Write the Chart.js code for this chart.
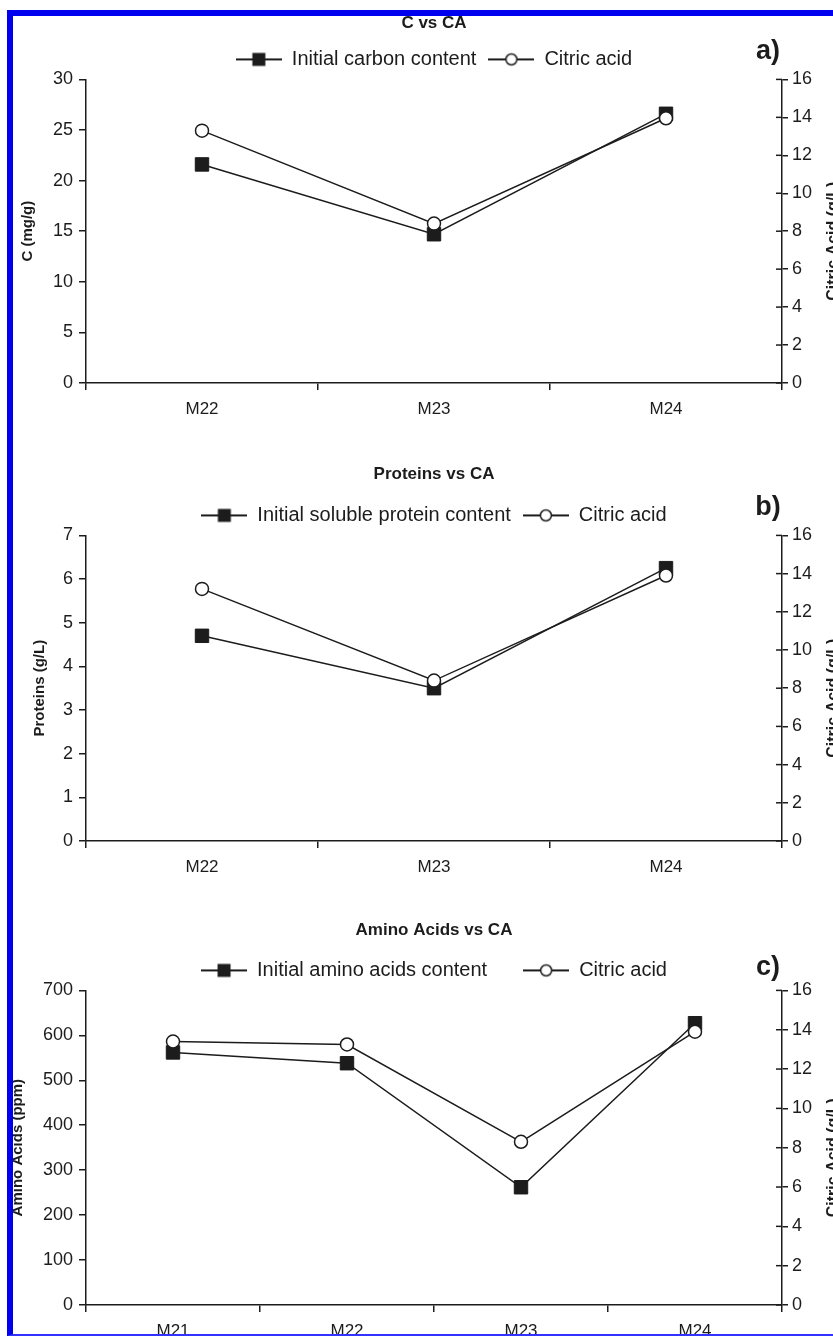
<!DOCTYPE html>
<html>
<head>
<meta charset="utf-8">
<title>C / Proteins / Amino Acids vs CA</title>
<script src="https://cdn.jsdelivr.net/npm/chart.js@4/dist/chart.umd.min.js"></script>
<style>
  html, body { margin: 0; padding: 0; background: #fff; overflow: hidden; width: 833px; height: 1336px; }
  .panel { position: absolute; left: 0; }
  #frame {
    position: absolute; left: 7px; top: 10px; width: 900px; height: 1318px;
    border-left: 6px solid #0000ee; border-top: 6px solid #0000ee; border-bottom: 2px solid #3333ff;
    z-index: 5; pointer-events: none;
  }
</style>
</head>
<body>

<canvas id="chartA" class="panel" width="868" height="432" style="top:0px"></canvas>
<canvas id="chartB" class="panel" width="868" height="450" style="top:440px"></canvas>
<canvas id="chartC" class="panel" width="868" height="441" style="top:895px"></canvas>
<div id="frame"></div>

<script>
// ---- data ----
const catsA = ["M22", "M23", "M24"];
const carbonA = [21.6, 14.7, 26.6];
const citricA = [13.3, 8.4, 13.95];

const catsB = ["M22", "M23", "M24"];
const proteinB = [4.7, 3.5, 6.25];
const citricB = [13.2, 8.4, 13.9];

const catsC = ["M21", "M22", "M23", "M24"];
const aminoC = [562, 538, 262, 627];
const citricC = [13.4, 13.25, 8.3, 13.9];

// axis ranges (max, step)
const leftAxisA = [30, 5];
const leftAxisB = [7, 1];
const leftAxisC = [700, 100];
const citricAxis = [16, 2];

const INK = "#1c1c1c";
const SANS = "'Liberation Sans', Arial, sans-serif";

// legend marker: short line with the point symbol on it
function legendMark(kind) {
  const c = document.createElement("canvas");
  c.width = 46; c.height = 16;
  const g = c.getContext("2d");
  g.strokeStyle = INK; g.lineWidth = 1.8;
  g.beginPath(); g.moveTo(0, 8); g.lineTo(46, 8); g.stroke();
  if (kind === "square") {
    g.fillStyle = INK; g.fillRect(16.5, 1.5, 13, 13);
  } else {
    g.fillStyle = "#fff"; g.lineWidth = 1.5;
    g.beginPath(); g.arc(23, 8, 5.5, 0, Math.PI * 2); g.fill(); g.stroke();
  }
  return c;
}

// right-axis inner ticks, panel letter, clipped right axis title
const panelExtras = {
  id: "panelExtras",
  afterDraw(chart, args, o) {
    const g = chart.ctx;
    const y2 = chart.scales.y2;
    const area = chart.chartArea;
    g.save();
    g.strokeStyle = INK; g.lineWidth = 1.5;
    y2.ticks.forEach((t, i) => {
      const py = y2.getPixelForTick(i);
      g.beginPath(); g.moveTo(area.right - 6, py); g.lineTo(area.right, py); g.stroke();
    });
    g.fillStyle = INK;
    g.textAlign = "center"; g.textBaseline = "middle";
    g.font = "bold 27px " + SANS;
    g.fillText(o.tag, o.tagX, o.tagY);
    g.font = "bold 16px " + SANS;
    g.translate(834, (area.top + area.bottom) / 2 + 10);
    g.rotate(-Math.PI / 2);
    g.fillText("Citric Acid (g/L)", 0, 0);
    g.restore();
  }
};

function makePanel(id, p) {
  const canvas = document.getElementById(id);
  const H = canvas.height;
  const legendPad = p.legendPad;
  const legendTop = p.areaTop - (20 + legendPad + 10);
  const titlePadTop = p.titleY - 10;
  const titlePadBottom = legendTop - (p.titleY + 10);

  return new Chart(canvas, {
    type: "line",
    data: {
      labels: p.labels,
      datasets: [
        {
          label: p.mainLabel, data: p.main, yAxisID: "y", order: 2,
          borderColor: INK, backgroundColor: INK, borderWidth: 1.5,
          pointStyle: "rect", pointRadius: 9.5, pointBorderWidth: 1
        },
        {
          label: "Citric acid", data: p.citric, yAxisID: "y2", order: 1,
          borderColor: INK, backgroundColor: "#fff", borderWidth: 1.5,
          pointStyle: "circle", pointRadius: 6.5, pointBorderWidth: 1.5
        }
      ]
    },
    options: {
      responsive: false,
      animation: false,
      layout: { padding: 0 },
      plugins: {
        title: {
          display: true, text: p.title, color: INK,
          font: { family: SANS, size: 17, weight: "bold", lineHeight: 1.2 },
          padding: { top: titlePadTop, bottom: titlePadBottom }
        },
        legend: {
          display: true,
          labels: {
            color: INK, padding: legendPad,
            font: { family: SANS, size: 20 },
            usePointStyle: true, pointStyleWidth: 46,
            generateLabels: chart => chart.data.datasets.map((ds, i) => ({
              text: ds.label, datasetIndex: i, hidden: false,
              pointStyle: legendMark(i === 0 ? "square" : "circle"),
              fontColor: INK, lineWidth: 0
            }))
          }
        },
        tooltip: { enabled: false },
        panelExtras: { tag: p.tag, tagX: 768, tagY: p.tagY }
      },
      scales: {
        x: {
          type: "category", offset: true,
          afterFit: s => { s.height = H - p.areaBottom; },
          grid: { display: true, offset: true, drawOnChartArea: false, tickLength: 7, color: INK, lineWidth: 1.5 },
          border: { display: true, color: INK, width: 1.5 },
          ticks: { color: INK, padding: 9, font: { family: SANS, size: 17 } }
        },
        y: {
          position: "left", min: 0, max: p.leftAxis[0],
          afterFit: s => { s.width = 86; },
          title: {
            display: true, text: p.yTitle, color: INK,
            font: { family: SANS, size: 15, weight: "bold", lineHeight: 1.2 },
            padding: { top: p.yTitleX - 9, bottom: 0 }
          },
          grid: { display: true, drawOnChartArea: false, tickLength: 7, color: INK, lineWidth: 1.5 },
          border: { display: true, color: INK, width: 1.5 },
          ticks: { stepSize: p.leftAxis[1], color: INK, padding: 6, font: { family: SANS, size: 18 } }
        },
        y2: {
          position: "right", min: 0, max: citricAxis[0],
          afterFit: s => { s.width = 868 - 782; },
          grid: { display: true, drawOnChartArea: false, tickLength: 6, color: INK, lineWidth: 1.5 },
          border: { display: true, color: INK, width: 1.5 },
          ticks: { stepSize: citricAxis[1], color: INK, padding: 4, font: { family: SANS, size: 18 } }
        }
      }
    },
    plugins: [panelExtras]
  });
}

makePanel("chartA", {
  labels: catsA, main: carbonA, citric: citricA, leftAxis: leftAxisA,
  title: "C vs CA", mainLabel: "Initial carbon content", yTitle: "C (mg/g)",
  titleY: 23, areaTop: 79, areaBottom: 383, legendPad: 12, yTitleX: 28,
  tag: "a)", tagY: 52
});

makePanel("chartB", {
  labels: catsB, main: proteinB, citric: citricB, leftAxis: leftAxisB,
  title: "Proteins vs CA", mainLabel: "Initial soluble protein content", yTitle: "Proteins (g/L)",
  titleY: 34, areaTop: 95, areaBottom: 401, legendPad: 12, yTitleX: 40,
  tag: "b)", tagY: 68
});

makePanel("chartC", {
  labels: catsC, main: aminoC, citric: citricC, leftAxis: leftAxisC,
  title: "Amino Acids vs CA", mainLabel: "Initial amino acids content", yTitle: "Amino Acids (ppm)",
  titleY: 35, areaTop: 95, areaBottom: 410, legendPad: 36, yTitleX: 18,
  tag: "c)", tagY: 73
});
</script>
</body>
</html>
